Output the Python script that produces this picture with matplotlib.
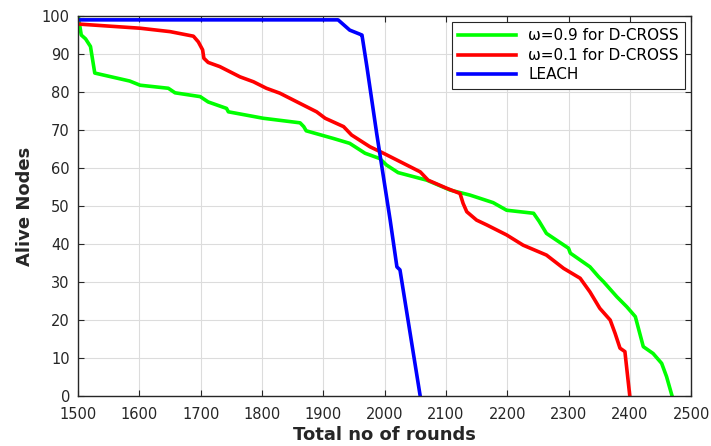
import matplotlib.pyplot as plt

# omega = 0.9 for D-CROSS
green_x = [1500, 1505, 1512, 1520, 1527, 1584, 1601, 1647, 1658, 1699, 1712, 1742, 1745,
           1802, 1862, 1868, 1872, 1916, 1943, 1968, 1992, 2003, 2022, 2069, 2107, 2139,
           2177, 2199, 2243, 2252, 2264, 2300, 2303, 2335, 2349, 2357, 2379, 2395, 2409,
           2422, 2438, 2452, 2460, 2469]
green_y = [100, 95, 94, 92, 85, 82.9, 81.8, 81.0, 79.8, 78.8, 77.4, 75.7, 74.8,
           73.1, 71.9, 70.9, 69.8, 67.8, 66.5, 63.9, 62.5, 60.8, 58.8, 56.8, 54.2, 52.9,
           50.9, 48.9, 48.1, 46.0, 42.8, 38.9, 37.6, 34.0, 31.4, 30.1, 26.1, 23.5, 20.9,
           13.0, 11.2, 8.6, 5.1, 0]

# omega = 0.1 for D-CROSS
red_x = [1500, 1601, 1650, 1688, 1696, 1703, 1705, 1712, 1731, 1764, 1786, 1807, 1829,
         1862, 1889, 1903, 1933, 1946, 1976, 1998, 2025, 2058, 2071, 2101, 2123, 2128,
         2134, 2150, 2167, 2199, 2226, 2264, 2292, 2319, 2335, 2351, 2368, 2376, 2384,
         2392, 2400]
red_y = [97.9, 96.8, 95.9, 94.7, 93.2, 91.1, 88.9, 87.8, 86.7, 84.0, 82.7, 81.0, 79.7,
         77.0, 74.8, 73.1, 70.9, 68.7, 65.6, 63.9, 61.7, 59.0, 56.8, 54.7, 53.3, 50.7,
         48.5, 46.3, 45.0, 42.4, 39.7, 37.1, 33.6, 31.0, 27.4, 23.1, 20.0, 16.5, 12.6,
         11.7, 0]

# LEACH
blue_x = [1500, 1924, 1943, 1960, 1963, 1971, 1987, 2009, 2020, 2025, 2058]
blue_y = [99, 99, 96.3, 95.2, 95, 86.7, 69.1, 46.3, 34, 33.2, 0]

plt.rcParams['font.family'] = ['DejaVu Sans']

fig = plt.figure(figsize=(7.11, 4.46), dpi=100)
ax = fig.add_axes([0.110, 0.112, 0.862, 0.852])

ax.plot(green_x, green_y, color='#00ff00', lw=2.6, label='ω=0.9 for D-CROSS')
ax.plot(red_x, red_y, color='#ff0000', lw=2.6, label='ω=0.1 for D-CROSS')
ax.plot(blue_x, blue_y, color='#0000ff', lw=2.6, label='LEACH')

ax.set_xlim(1500, 2500)
ax.set_ylim(0, 100)
ax.set_xticks(range(1500, 2501, 100))
ax.set_yticks(range(0, 101, 10))
ax.grid(True, color='#dcdcdc', lw=0.8)
ax.set_axisbelow(True)
ax.tick_params(direction='in', top=True, right=True, labelsize=10.5, colors='#262626',
               length=4)
ax.tick_params(axis='x', pad=8)
ax.tick_params(axis='y', pad=6)
for s in ax.spines.values():
    s.set_color('#262626')
    s.set_linewidth(1.0)

ax.set_xlabel('Total no of rounds', fontsize=13, fontweight='bold', color='#262626',
              labelpad=3)
ax.set_ylabel('Alive Nodes', fontsize=13, fontweight='bold', color='#262626',
              labelpad=6)

leg = ax.legend(loc='upper right', fontsize=11, fancybox=False, framealpha=1,
                edgecolor='#262626', handlelength=3.8, borderaxespad=0.4,
                labelspacing=0.3)
leg.get_frame().set_linewidth(0.8)

fig.savefig('out.png', dpi=100)
